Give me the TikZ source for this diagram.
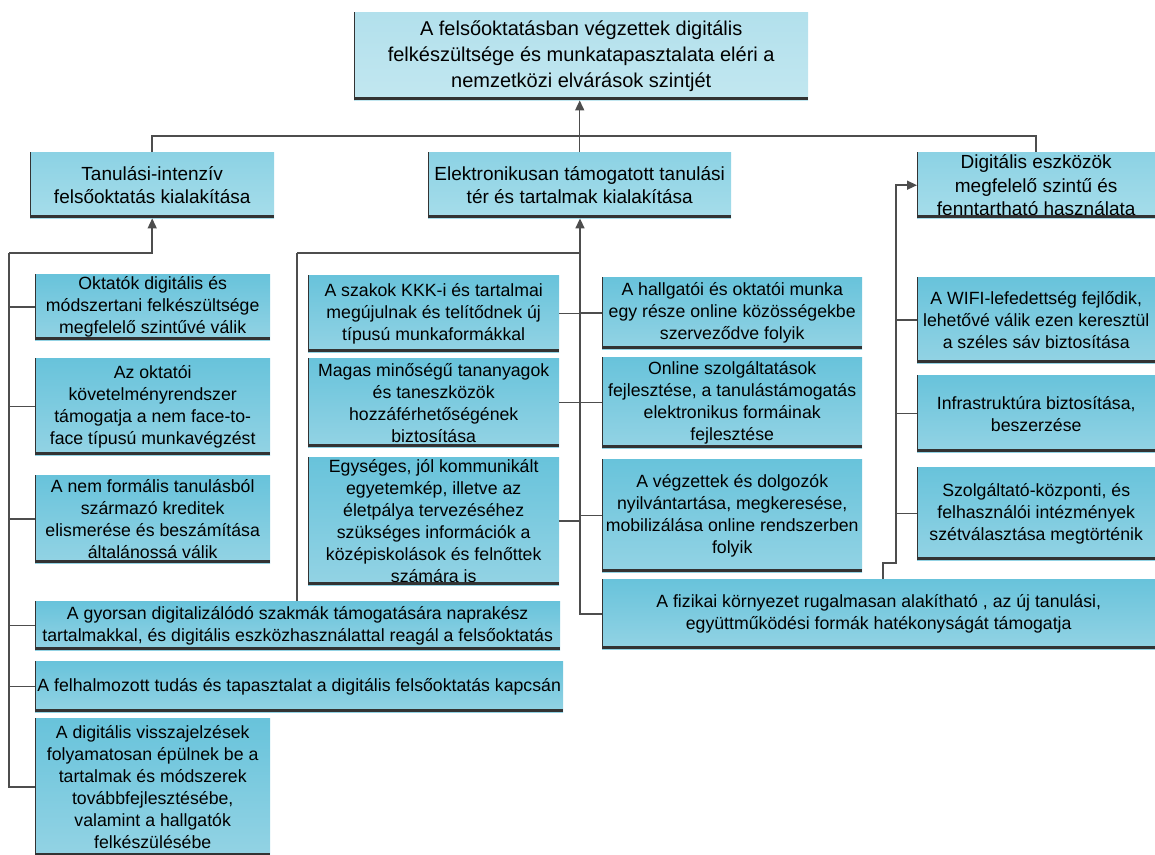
\documentclass[tikz,border=0pt]{standalone}
\usepackage{fontspec}
\setmainfont{Liberation Sans}
\usetikzlibrary{arrows.meta}
\definecolor{topA}{HTML}{B2E0EC}
\definecolor{topB}{HTML}{C2E7F0}
\definecolor{midA}{HTML}{8CD2E4}
\definecolor{midB}{HTML}{A6DDEA}
\definecolor{leafA}{HTML}{68C3DB}
\definecolor{leafB}{HTML}{93D3E4}
\definecolor{linec}{HTML}{4D4D4D}
\definecolor{edgec}{HTML}{333333}
\tikzset{
  boxbase/.style={anchor=north west, inner sep=1pt, align=center, draw=none},
  topbox/.style={boxbase, top color=topA, bottom color=topB, font=\fontsize{20}{26}\selectfont},
  midbox/.style={boxbase, top color=midA, bottom color=midB, font=\fontsize{19}{23.5}\selectfont},
  leafbox/.style={boxbase, top color=leafA, bottom color=leafB, font=\fontsize{17.7}{22}\selectfont},
  conn/.style={draw=linec, line width=1.5pt},
  arr/.style={conn, -{Triangle[length=10pt,width=9pt]}},
  bottomedge/.style={draw=edgec, line width=3pt},
  leftedge/.style={draw=edgec, line width=0.8pt}
}
\newcommand\mybox[7]{%
  \node[#6, minimum width=#4pt, minimum height=#5pt] (#1) at (#2,#3) {#7};
  \draw[bottomedge] ([yshift=1.5pt]#1.south west) -- ([yshift=1.5pt]#1.south east);
  \draw[leftedge] ([xshift=0.4pt]#1.south west) -- ([xshift=0.4pt]#1.north west);
}
\begin{document}
\begin{tikzpicture}[x=1pt,y=-1pt]
\useasboundingbox (0,0) rectangle (1155,854);
% top and level 2
\mybox{top}{354}{12}{454}{88}{topbox}{A felsőoktatásban végzettek digitális\\felkészültsége és munkatapasztalata eléri a\\nemzetközi elvárások szintjét}
\mybox{tan}{30}{152}{244}{66}{midbox}{Tanulási-intenzív\\felsőoktatás kialakítása}
\mybox{ele}{428}{152}{303}{66}{midbox}{Elektronikusan támogatott tanulási\\tér és tartalmak kialakítása}
\mybox{dig}{917}{152}{238}{66}{midbox}{Digitális eszközök\\megfelelő szintű és\\fenntartható használata}
% left column
\mybox{ok}{35}{274}{235}{66}{leafbox}{Oktatók digitális és\\módszertani felkészültsége\\megfelelő szintűvé válik}
\mybox{az}{35}{358}{235}{97}{leafbox}{Az oktatói\\követelményrendszer\\támogatja a nem face-to-\\face típusú munkavégzést}
\mybox{nf}{35}{475}{235}{88}{leafbox}{A nem formális tanulásból\\származó kreditek\\elismerése és beszámítása\\általánossá válik}
\mybox{gy}{35}{601}{525}{49}{leafbox}{A gyorsan digitalizálódó szakmák támogatására naprakész\\tartalmakkal, és digitális eszközhasználattal reagál a felsőoktatás}
\mybox{fe}{35}{661}{528}{51}{leafbox}{A felhalmozott tudás és tapasztalat a digitális felsőoktatás kapcsán}
\mybox{dv}{35}{718}{235}{138}{leafbox}{A digitális visszajelzések\\folyamatosan épülnek be a\\tartalmak és módszerek\\továbbfejlesztésébe,\\valamint a hallgatók\\felkészülésébe}
% middle left column
\mybox{sz}{308}{275}{251}{77}{leafbox}{A szakok KKK-i és tartalmai\\megújulnak és telítődnek új\\típusú munkaformákkal}
\mybox{ma}{308}{358}{251}{89}{leafbox}{Magas minőségű tananyagok\\és taneszközök\\hozzáférhetőségének\\biztosítása}
\mybox{eg}{308}{457}{251}{128}{leafbox}{Egységes, jól kommunikált\\egyetemkép, illetve az\\életpálya tervezéséhez\\szükséges információk a\\középiskolások és felnőttek\\számára is}
% middle right column
\mybox{ha}{602}{277}{260}{72}{leafbox}{A hallgatói és oktatói munka\\egy része online közösségekbe\\szerveződve folyik}
\mybox{on}{602}{357}{260}{91}{leafbox}{Online szolgáltatások\\fejlesztése, a tanulástámogatás\\elektronikus formáinak\\fejlesztése}
\mybox{ve}{602}{459}{260}{113}{leafbox}{A végzettek és dolgozók\\nyilvántartása, megkeresése,\\mobilizálása online rendszerben\\folyik}
\mybox{fi}{602}{579}{553}{70}{leafbox}{A fizikai környezet rugalmasan alakítható , az új tanulási,\\együttműködési formák hatékonyságát támogatja}
% right column
\mybox{wi}{917}{277}{238}{86}{leafbox}{A WIFI-lefedettség fejlődik,\\lehetővé válik ezen keresztül\\a széles sáv biztosítása}
\mybox{in}{917}{375}{238}{77}{leafbox}{Infrastruktúra biztosítása,\\beszerzése}
\mybox{sc}{917}{467}{238}{93}{leafbox}{Szolgáltató-központi, és\\felhasználói intézmények\\szétválasztása megtörténik}
% connectors: top level
\coordinate (bus) at (580,136);
\draw[conn] (tan.north) |- (bus) -| (dig.north);
\draw[arr] (ele.north) -- (ele.north |- top.south);
% left group
\coordinate (lc) at (9,253);
\draw[arr] (lc) -| (tan.south);
\foreach \n in {ok,az,nf,gy,fe,dv} \draw[conn] (\n.west) -| (lc);
% middle group
\coordinate (mc) at (580,253);
\coordinate (mx) at (297,253);
\draw[arr] (mc) -- (mc |- ele.south);
\draw[conn] (mx) -- (mc);
\draw[conn] (mx) -- (mx |- gy.north);
\foreach \n in {sz,ma,eg} \draw[conn] (\n.east) -| (mc);
\foreach \n in {ha,on,ve,fi} \draw[conn] (\n.west) -| (mc);
% right group
\coordinate (rk) at (896,563);
\draw[arr] (fi.north west) ++(281,0) |- (rk) |- (dig.west);
\foreach \n in {wi,in,sc} \draw[conn] (\n.west) -| (rk);
\end{tikzpicture}
\end{document}
